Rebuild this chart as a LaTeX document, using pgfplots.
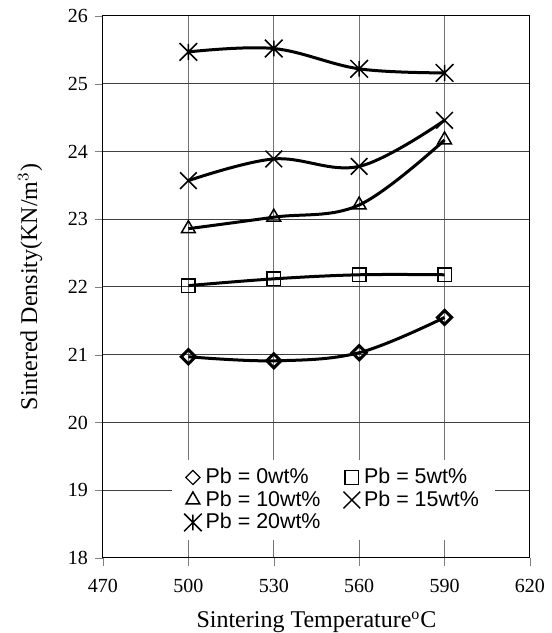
\documentclass[border=0pt]{standalone}
\usepackage{fontspec}
\setmainfont{Liberation Serif}
\newfontfamily\legfont{Liberation Sans}
\usepackage{pgfplots}
\pgfplotsset{compat=1.18}
\pgfdeclareplotmark{xstar}{%
  \pgfpathmoveto{\pgfqpoint{-\pgfplotmarksize}{-\pgfplotmarksize}}%
  \pgfpathlineto{\pgfqpoint{\pgfplotmarksize}{\pgfplotmarksize}}%
  \pgfpathmoveto{\pgfqpoint{-\pgfplotmarksize}{\pgfplotmarksize}}%
  \pgfpathlineto{\pgfqpoint{\pgfplotmarksize}{-\pgfplotmarksize}}%
  \pgfpathmoveto{\pgfqpoint{0pt}{-0.9\pgfplotmarksize}}%
  \pgfpathlineto{\pgfqpoint{0pt}{0.9\pgfplotmarksize}}%
  \pgfusepathqstroke}
\begin{document}
\begin{tikzpicture}
\begin{axis}[
  name=main,
  scale only axis,
  width=213.5pt, height=271pt,
  xmin=470, xmax=620, ymin=18, ymax=26,
  xtick={470,500,...,620}, ytick={18,19,...,26},
  /pgf/number format/assume math mode=true,
  /pgf/number format/1000 sep={},
  tick label style={font=\fontsize{10}{12}\selectfont},
  xticklabel style={yshift=-3pt},
  tick align=outside, tick pos=left,
  major tick length=4pt,
  grid=major,
  x grid style={black!55, line width=0.5pt},
  y grid style={black!75, line width=0.5pt},
  axis line style={black, line width=0.5pt},
  xlabel={Sintering Temperature$^{\mathrm{o}}$C},
  ylabel={Sintered Density(KN/m$^{3}$)},
  label style={font=\fontsize{12}{14}\selectfont},
  xlabel style={inner sep=0pt, yshift=-6pt},
  ylabel style={yshift=6pt},
  every axis plot/.append style={black, line width=1.5pt, smooth, tension=0.6, mark options={solid, line width=0.75pt}},
  legend style={at={(axis description cs:0.54,0.107)}, anchor=center, draw=none, fill=white,
    font=\legfont\fontsize{10.7}{12}\selectfont, row sep=-2pt, inner xsep=6pt,
    /tikz/every even column/.append style={column sep=9.5pt}},
  legend columns=2,
  legend cell align=left,
  legend image code/.code={\draw[only marks, line width=0.6pt] plot coordinates {(3.5pt,0pt)};},
]
\addplot[mark=square, mark size=2.5pt, mark options={rotate=45}] coordinates {(500,20.97) (530,20.91) (560,21.03) (590,21.55)};
\addlegendentry{Pb = 0wt\%}
\addplot[mark=square, mark size=3.4pt] coordinates {(500,22.02) (530,22.12) (560,22.18) (590,22.18)};
\addlegendentry{Pb = 5wt\%}
\addplot[mark=triangle, mark size=4pt] coordinates {(500,22.86) (530,23.03) (560,23.21) (590,24.17)};
\addlegendentry{Pb = 10wt\%}
\addplot[mark=x, mark size=5.9pt] coordinates {(500,23.57) (530,23.89) (560,23.78) (590,24.46)};
\addlegendentry{Pb = 15wt\%}
\addplot[mark=xstar, mark size=4.4pt] coordinates {(500,25.47) (530,25.52) (560,25.22) (590,25.16)};
\addlegendentry{Pb = 20wt\%}
\end{axis}
\path ([xshift=-51.5pt,yshift=8pt]main.north west);
\path ([xshift=11pt,yshift=-37.5pt]main.south east);
\end{tikzpicture}
\end{document}
